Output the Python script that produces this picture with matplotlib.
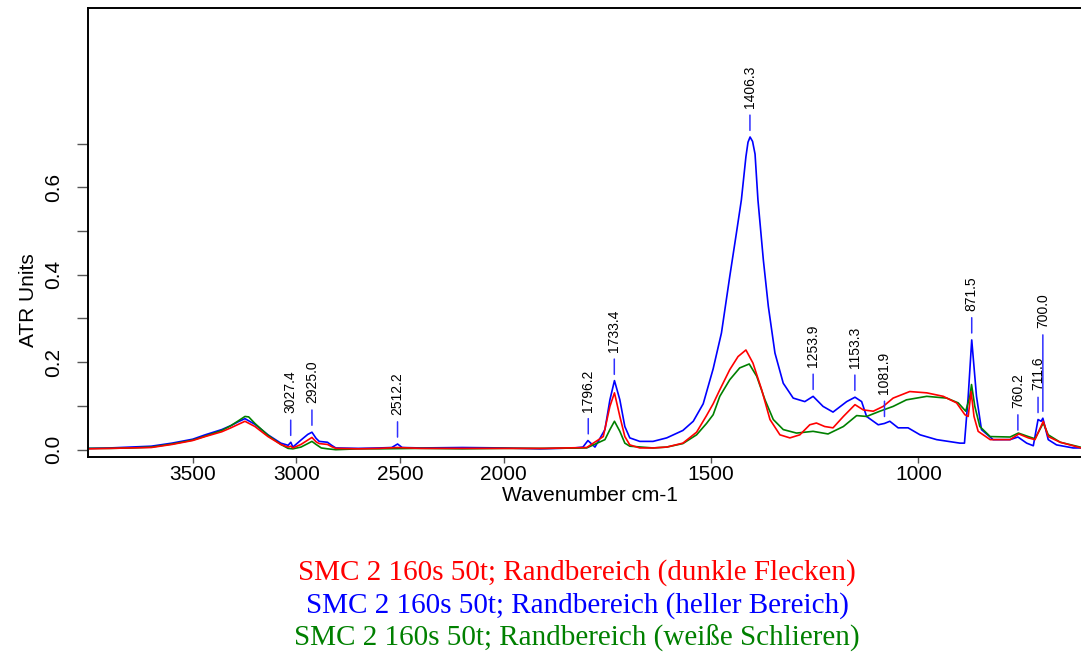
import numpy as np
import matplotlib
matplotlib.use("Agg")
import matplotlib.pyplot as plt

# spectrum 1: Randbereich (dunkle Flecken)
red_wn = [3996, 3900, 3800, 3700, 3600, 3500, 3440, 3360, 3316, 3280,
          3248, 3200, 3137, 3075, 3040, 3027, 3017, 2978, 2945, 2925,
          2905, 2890, 2850, 2830, 2810, 2700, 2600, 2512, 2400, 2200,
          2000, 1900, 1800, 1760, 1744, 1733, 1720, 1708, 1696, 1672,
          1640, 1607, 1568, 1535, 1511, 1495, 1479, 1455, 1435, 1416,
          1399, 1378, 1358, 1334, 1310, 1286, 1262, 1246, 1226, 1206,
          1181, 1153, 1133, 1109, 1085, 1061, 1021, 980, 940, 908,
          888, 880, 873, 866, 856, 827, 779, 758, 735, 719,
          699, 687, 658, 608]
red_ab = [0.002, 0.003, 0.004, 0.005, 0.012, 0.021, 0.030, 0.041, 0.050, 0.058,
          0.065, 0.053, 0.030, 0.012, 0.006, 0.008, 0.004, 0.012, 0.022, 0.028,
          0.018, 0.014, 0.012, 0.007, 0.003, 0.002, 0.003, 0.005, 0.003, 0.003,
          0.003, 0.003, 0.005, 0.030, 0.099, 0.130, 0.076, 0.030, 0.011, 0.004,
          0.004, 0.006, 0.015, 0.040, 0.078, 0.105, 0.137, 0.183, 0.213, 0.228,
          0.198, 0.137, 0.069, 0.034, 0.027, 0.034, 0.057, 0.061, 0.053, 0.050,
          0.076, 0.103, 0.091, 0.088, 0.099, 0.118, 0.133, 0.130, 0.122, 0.107,
          0.080, 0.076, 0.133, 0.076, 0.042, 0.023, 0.023, 0.036, 0.027, 0.023,
          0.065, 0.030, 0.017, 0.004]

# spectrum 2: Randbereich (heller Bereich)
blue_wn = [3996, 3900, 3800, 3700, 3600, 3500, 3440, 3360, 3316, 3280,
           3248, 3200, 3137, 3075, 3040, 3027, 3017, 2978, 2945, 2925,
           2905, 2890, 2850, 2830, 2810, 2700, 2600, 2540, 2512, 2490,
           2400, 2200, 2000, 1913, 1830, 1809, 1797, 1780, 1756, 1744,
           1733, 1720, 1708, 1696, 1672, 1640, 1607, 1568, 1543, 1519,
           1495, 1475, 1455, 1439, 1427, 1416, 1411, 1406, 1400, 1394,
           1387, 1374, 1362, 1346, 1326, 1302, 1274, 1254, 1230, 1206,
           1173, 1153, 1137, 1125, 1097, 1082, 1069, 1049, 1025, 996,
           956, 900, 889, 880, 871.5, 860, 848, 820, 779, 760,
           739, 723, 711.6, 704, 700, 687, 667, 627, 608]
blue_ab = [0.003, 0.004, 0.006, 0.008, 0.015, 0.024, 0.034, 0.046, 0.055, 0.064,
           0.071, 0.058, 0.034, 0.015, 0.010, 0.017, 0.006, 0.022, 0.035, 0.040,
           0.026, 0.019, 0.017, 0.010, 0.004, 0.003, 0.004, 0.005, 0.013, 0.005,
           0.004, 0.005, 0.004, 0.002, 0.004, 0.006, 0.021, 0.006, 0.046, 0.114,
           0.158, 0.114, 0.053, 0.027, 0.019, 0.019, 0.027, 0.044, 0.065, 0.105,
           0.185, 0.267, 0.396, 0.495, 0.571, 0.670, 0.703, 0.715, 0.705, 0.676,
           0.571, 0.434, 0.328, 0.221, 0.152, 0.118, 0.110, 0.122, 0.099, 0.086,
           0.110, 0.120, 0.110, 0.076, 0.057, 0.060, 0.065, 0.050, 0.050, 0.034,
           0.023, 0.015, 0.015, 0.122, 0.251, 0.122, 0.046, 0.023, 0.023, 0.029,
           0.015, 0.009, 0.069, 0.065, 0.072, 0.023, 0.011, 0.004, 0.004]

# spectrum 3: Randbereich (weiße Schlieren)
green_wn = [3996, 3900, 3800, 3700, 3600, 3500, 3440, 3360, 3316, 3280,
            3248, 3230, 3200, 3137, 3075, 3040, 3017, 2978, 2945, 2925,
            2905, 2880, 2850, 2810, 2700, 2600, 2400, 2200, 2000, 1900,
            1800, 1756, 1744, 1733, 1720, 1708, 1696, 1640, 1607, 1568,
            1535, 1511, 1495, 1479, 1455, 1431, 1408, 1390, 1370, 1350,
            1326, 1294, 1254, 1218, 1181, 1149, 1125, 1093, 1061, 1029,
            980, 932, 904, 886, 876, 872, 864, 852, 827, 779,
            759, 735, 719, 699, 687, 658, 610]
green_ab = [0.003, 0.003, 0.004, 0.006, 0.013, 0.022, 0.031, 0.044, 0.055, 0.066,
            0.076, 0.075, 0.060, 0.033, 0.012, 0.003, 0.002, 0.006, 0.014, 0.019,
            0.012, 0.004, 0.002, 0.000, 0.002, 0.002, 0.003, 0.002, 0.003, 0.003,
            0.004, 0.023, 0.046, 0.065, 0.042, 0.015, 0.008, 0.004, 0.006, 0.014,
            0.034, 0.060, 0.080, 0.122, 0.160, 0.187, 0.196, 0.168, 0.114, 0.069,
            0.046, 0.038, 0.042, 0.036, 0.053, 0.078, 0.076, 0.088, 0.099, 0.114,
            0.122, 0.118, 0.107, 0.088, 0.122, 0.149, 0.099, 0.053, 0.030, 0.029,
            0.038, 0.030, 0.025, 0.061, 0.034, 0.017, 0.006]

# picked peaks of the blue spectrum
peak_wn = [3027.4, 2925.0, 2512.2, 1796.2, 1733.4, 1406.3, 1253.9,
           1153.3, 1081.9, 871.5, 760.2, 711.6, 700.0]

names = ["SMC 2 160s 50t; Randbereich (dunkle Flecken)",
         "SMC 2 160s 50t; Randbereich (heller Bereich)",
         "SMC 2 160s 50t; Randbereich (weiße Schlieren)"]


def compress(w):
    # above 2000 cm-1 the axis runs at half scale
    w = np.asarray(w, dtype=float)
    return np.where(w > 2000, 2000 + (w - 2000) * 0.5, w)


def expand(u):
    u = np.asarray(u, dtype=float)
    return np.where(u > 2000, 2000 + (u - 2000) * 2.0, u)


plt.rcParams["font.family"] = ["Liberation Sans", "DejaVu Sans"]

fig = plt.figure(figsize=(10.81, 6.54), dpi=100)
ax = fig.add_axes([88 / 1081, 197 / 654, 1 - 88 / 1081, 449 / 654])
ax.set_xscale("function", functions=(compress, expand))

ax.plot(blue_wn, blue_ab, color="blue", lw=1.2)
ax.plot(green_wn, green_ab, color="green", lw=1.2)
ax.plot(red_wn, red_ab, color="red", lw=1.2)

# peak marks: short tick above the peak, value written vertically above it
bw = np.array(blue_wn[::-1])
ba = np.array(blue_ab[::-1])
lifted = {700.0: 44}
for w in peak_wn:
    y0 = np.interp(w, bw, ba)
    extra = lifted.get(w, 0)
    ax.annotate("", xy=(w, y0), xytext=(0, 16 + extra), textcoords="offset points",
                arrowprops=dict(arrowstyle="-", color="#3030ff", lw=1.1,
                                shrinkA=0, shrinkB=5))
    ax.annotate(f"{w:.1f}", xy=(w, y0), xytext=(0, 21 + extra),
                textcoords="offset points", rotation=90, ha="center",
                va="bottom", fontsize=10)

ax.set_xlim(4005, 608)
ax.set_ylim(-0.0167, 1.01)
ax.set_xticks([3500, 3000, 2500, 2000, 1500, 1000])
ax.set_xticklabels(["3500", "3000", "2500", "2000", "1500", "1000"])
ax.set_yticks(np.arange(0, 0.75, 0.1))
ax.set_yticklabels(["0.0", "", "0.2", "", "0.4", "", "0.6", ""],
                   rotation=90, va="center")
ax.xaxis.set_minor_locator(matplotlib.ticker.NullLocator())
ax.tick_params(axis="y", direction="out", length=8, width=1, color="#555555",
               labelsize=15, pad=10)
ax.tick_params(axis="x", direction="out", length=4, width=1, color="#555555",
               labelsize=15, pad=1.5)

ax.spines["right"].set_visible(False)
for s in ["left", "top", "bottom"]:
    ax.spines[s].set_linewidth(1.4)

ax.set_xlabel("Wavenumber cm-1", fontsize=15)
ax.xaxis.set_label_coords(0.505, -0.064)
ax.set_ylabel("ATR Units", fontsize=15)
ax.yaxis.set_label_coords(-0.05, 0.35)

for name, col, yb in zip(names, ["red", "blue", "green"], [0.1131, 0.0627, 0.0122]):
    fig.text(0.534, yb, name, color=col, ha="center", va="baseline",
             fontsize=21, family="Liberation Serif")

fig.savefig("out.png", dpi=100)
